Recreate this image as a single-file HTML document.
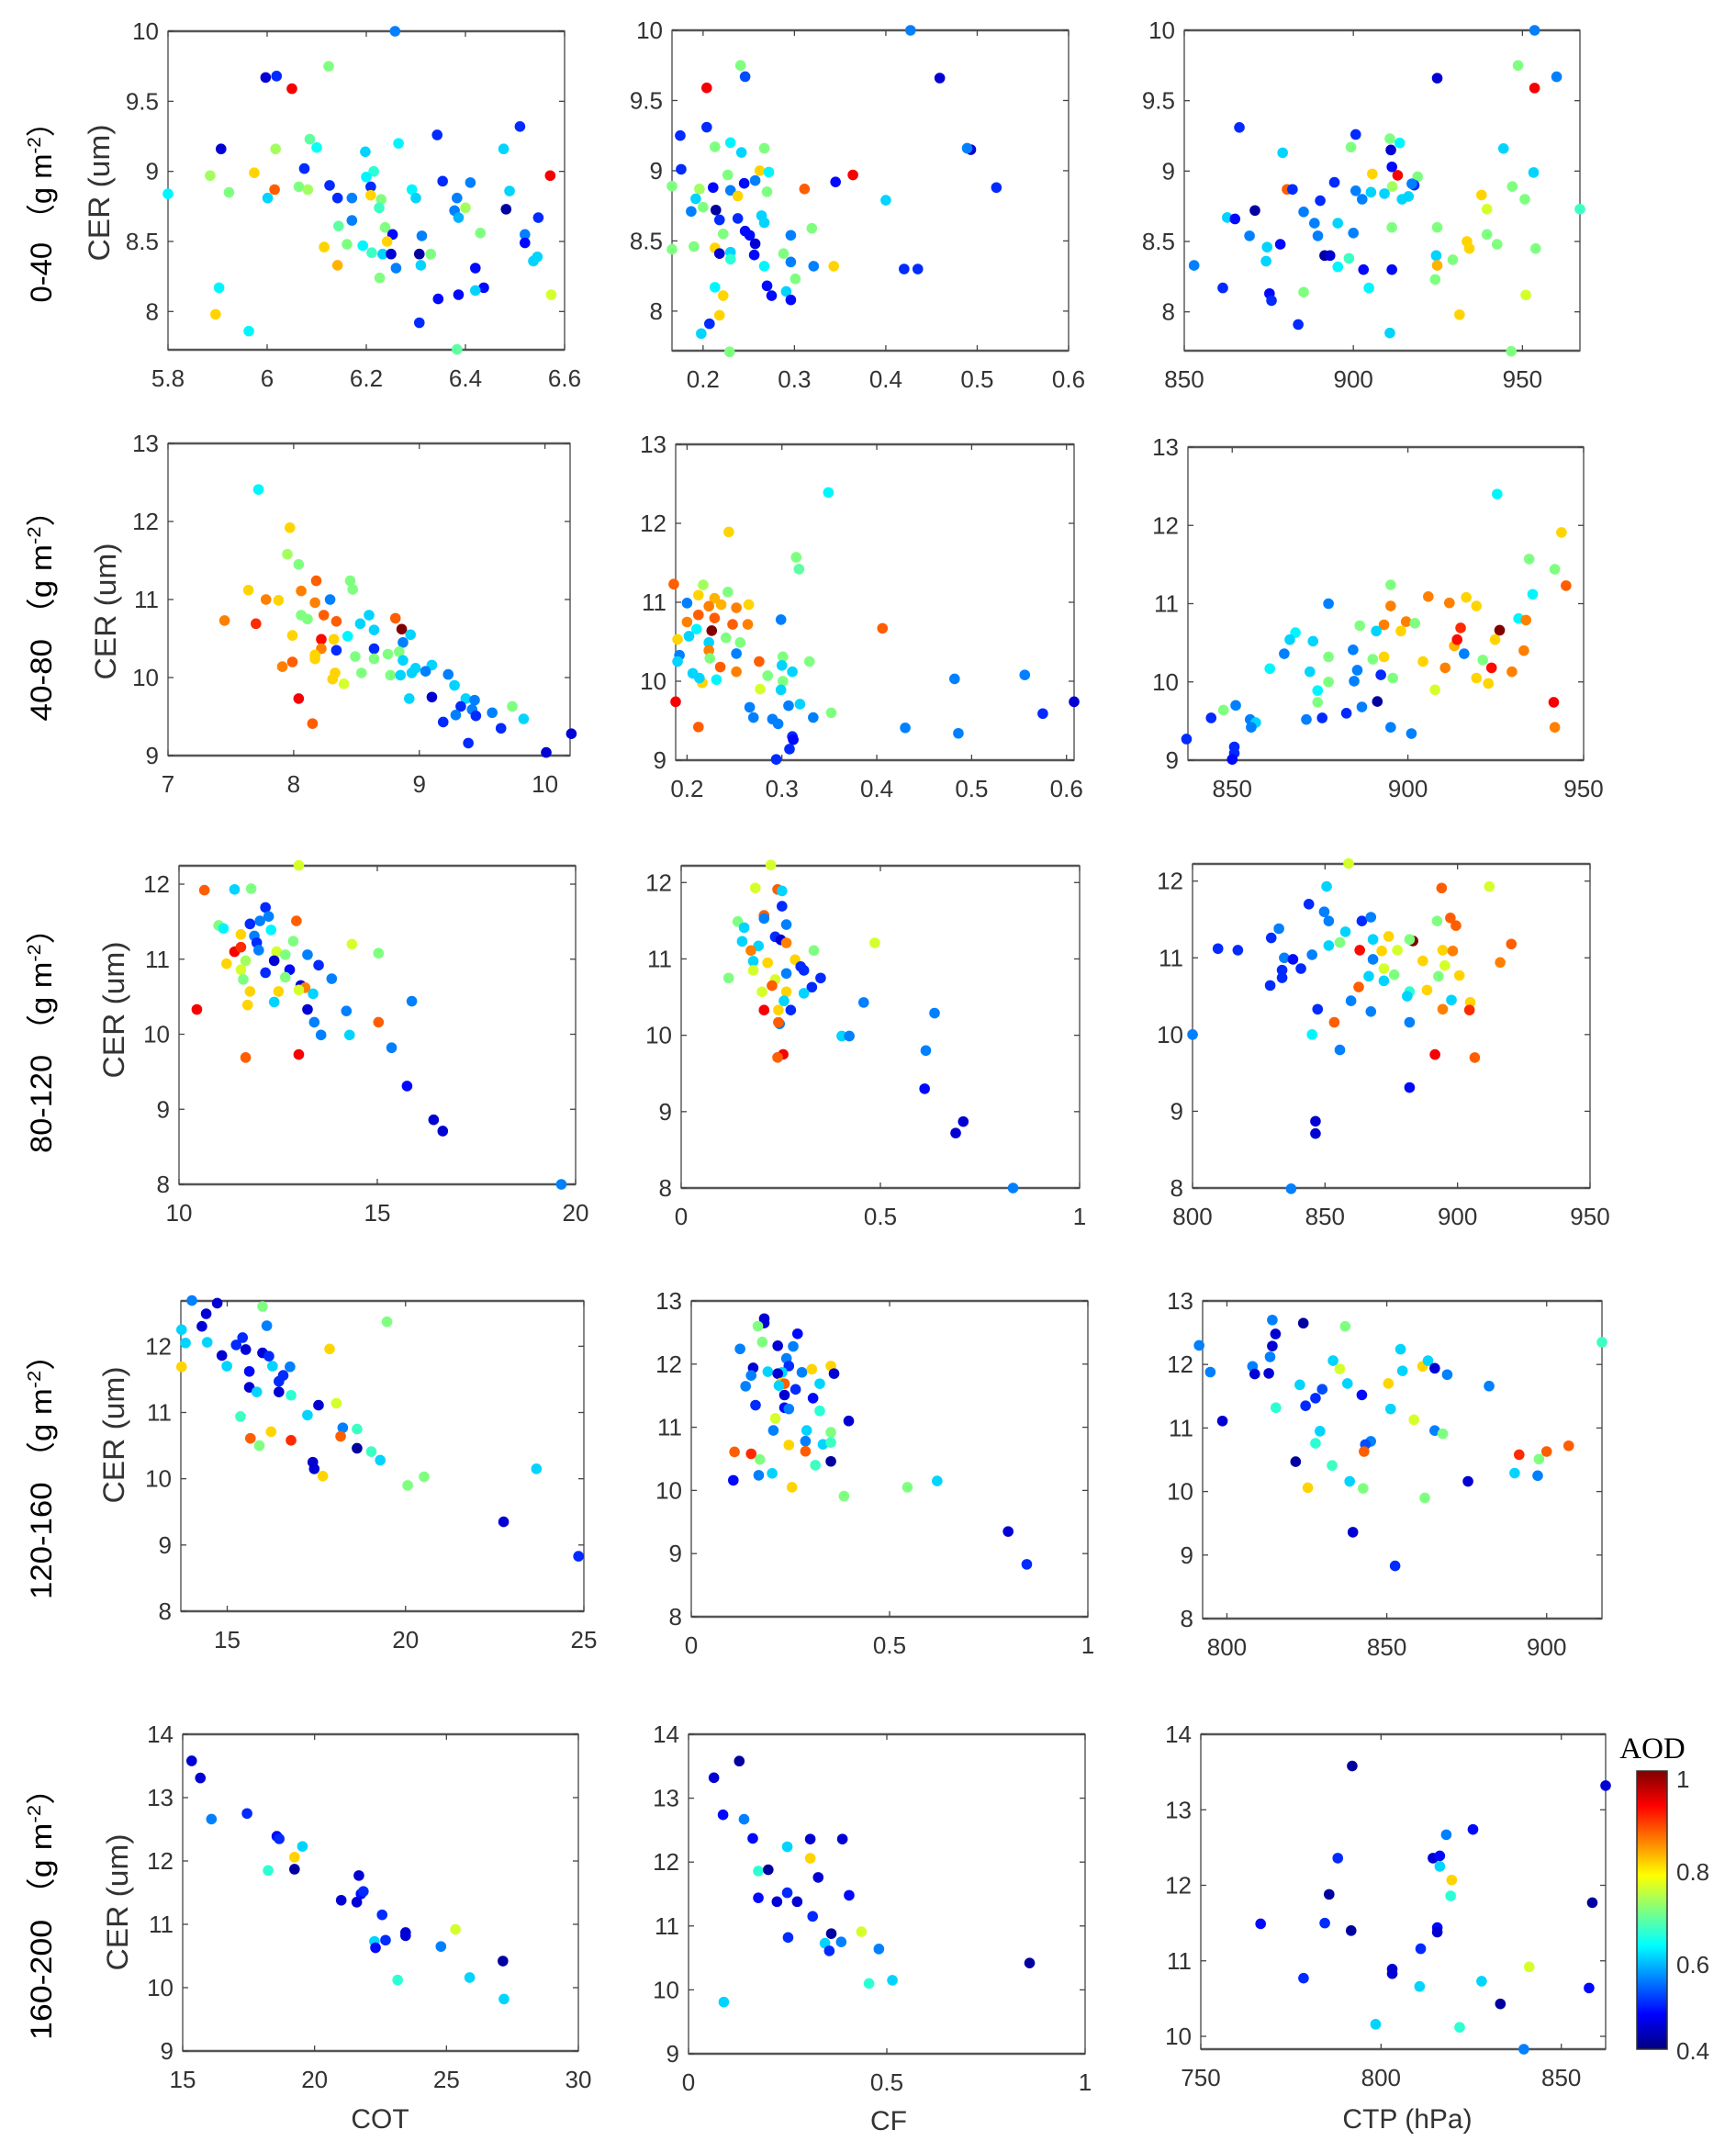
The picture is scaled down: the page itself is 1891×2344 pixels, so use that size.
<!DOCTYPE html>
<html><head><meta charset="utf-8"><style>
html,body{margin:0;padding:0;background:#fff}
svg{display:block}
text{font-family:"Liberation Sans",Arial,sans-serif;fill:#333}
</style></head><body>
<svg id="fig" xmlns="http://www.w3.org/2000/svg" width="1891" height="2344" viewBox="0 0 1891 2344">
<defs><linearGradient id="jetgrad" x1="0" y1="1" x2="0" y2="0">
<stop offset="0" stop-color="#00007f"/><stop offset="0.125" stop-color="#0000ff"/><stop offset="0.375" stop-color="#00ffff"/><stop offset="0.625" stop-color="#ffff00"/><stop offset="0.875" stop-color="#ff0000"/><stop offset="1" stop-color="#7f0000"/></linearGradient></defs>
<g id="panels"></g>
<g>
<rect x="1783" y="1929" width="33" height="303" fill="url(#jetgrad)" stroke="#333" stroke-width="1.5"/>
<text x="1800" y="1915" text-anchor="middle" style="font-family:'Liberation Serif',serif;font-size:33px;fill:#000">AOD</text>
<text x="1826" y="1947" style="font-size:26px">1</text>
<text x="1826" y="2048" style="font-size:26px">0.8</text>
<text x="1826" y="2149" style="font-size:26px">0.6</text>
<text x="1826" y="2243" style="font-size:26px">0.4</text>
</g>
<text x="414" y="2318" text-anchor="middle" style="font-size:30px">COT</text>
<text x="968" y="2320" text-anchor="middle" style="font-size:30px">CF</text>
<text x="1533" y="2318" text-anchor="middle" style="font-size:30px">CTP (hPa)</text>
</svg>
<script>
// ---- data: [x, CER, AOD] ----
const r1cot=[[6.258,10,.55],[6.124,9.75,.7],[5.997,9.67,.45],[6.019,9.68,.5],[6.05,9.59,.93],[5.907,9.16,.45],[6.017,9.16,.72],[6.086,9.23,.68],[6.1,9.17,.63],[5.885,8.97,.72],[5.974,8.99,.8],[6.075,9.02,.5],[6.198,9.14,.6],[6.265,9.2,.62],[6.343,9.26,.5],[6.51,9.32,.5],[6.477,9.16,.6],[6.571,8.97,.93],[5.8,8.84,.62],[5.923,8.85,.7],[6.015,8.87,.87],[6.001,8.81,.6],[6.064,8.89,.7],[6.082,8.87,.72],[6.126,8.9,.5],[6.142,8.81,.5],[6.171,8.81,.55],[6.209,8.89,.5],[6.215,9,.65],[6.2,8.96,.62],[6.209,8.83,.8],[6.23,8.8,.7],[6.226,8.74,.66],[6.292,8.87,.62],[6.3,8.81,.6],[6.354,8.93,.5],[6.41,8.92,.55],[6.383,8.81,.55],[6.378,8.72,.55],[6.386,8.67,.58],[6.4,8.74,.72],[6.489,8.86,.6],[6.482,8.73,.42],[6.547,8.67,.5],[6.144,8.61,.68],[6.171,8.65,.55],[6.238,8.6,.7],[6.253,8.55,.48],[6.242,8.5,.8],[6.161,8.48,.7],[6.115,8.46,.8],[6.193,8.47,.62],[6.211,8.42,.66],[6.233,8.41,.6],[6.25,8.41,.45],[6.307,8.41,.42],[6.33,8.41,.7],[6.312,8.54,.55],[6.43,8.56,.7],[6.52,8.55,.55],[6.52,8.49,.48],[6.545,8.39,.6],[6.537,8.36,.6],[6.142,8.33,.82],[6.26,8.31,.55],[6.31,8.33,.6],[6.42,8.31,.48],[6.227,8.24,.7],[6.437,8.17,.48],[6.42,8.15,.6],[6.386,8.12,.48],[6.345,8.09,.48],[5.903,8.17,.62],[6.573,8.12,.75],[5.896,7.98,.8],[6.307,7.92,.5],[5.963,7.86,.62],[6.383,7.73,.68]];
const r1cf=[[.427,10,.55],[.241,9.75,.7],[.246,9.67,.52],[.459,9.66,.45],[.204,9.59,.93],[.175,9.25,.5],[.204,9.31,.5],[.213,9.17,.7],[.23,9.2,.62],[.242,9.13,.6],[.267,9.16,.7],[.493,9.15,.45],[.489,9.16,.55],[.176,9.01,.5],[.262,9,.8],[.272,8.99,.62],[.227,8.97,.7],[.364,8.97,.93],[.345,8.92,.48],[.311,8.87,.87],[.166,8.89,.7],[.196,8.87,.72],[.211,8.88,.48],[.245,8.91,.48],[.257,8.93,.55],[.23,8.86,.55],[.238,8.82,.8],[.192,8.8,.6],[.27,8.85,.7],[.4,8.79,.6],[.521,8.88,.5],[.187,8.71,.55],[.2,8.74,.7],[.214,8.72,.42],[.238,8.66,.5],[.264,8.68,.6],[.267,8.63,.6],[.218,8.65,.5],[.319,8.59,.7],[.246,8.57,.48],[.251,8.54,.48],[.222,8.55,.7],[.296,8.54,.55],[.166,8.44,.7],[.19,8.46,.7],[.213,8.45,.8],[.218,8.41,.45],[.23,8.42,.6],[.257,8.48,.45],[.256,8.4,.48],[.288,8.41,.7],[.23,8.37,.65],[.267,8.32,.62],[.296,8.35,.55],[.321,8.32,.55],[.343,8.32,.8],[.42,8.3,.5],[.435,8.3,.5],[.301,8.23,.7],[.213,8.17,.62],[.27,8.18,.48],[.275,8.11,.48],[.291,8.14,.6],[.296,8.08,.48],[.222,8.11,.8],[.218,7.97,.8],[.207,7.91,.5],[.198,7.84,.6],[.229,7.71,.7]];
const r1ctp=[[953.6,10,.55],[948.7,9.75,.7],[960.1,9.67,.55],[924.8,9.66,.45],[953.6,9.59,.93],[866.3,9.31,.5],[900.7,9.26,.5],[899.3,9.17,.7],[879.1,9.13,.6],[910.8,9.23,.7],[913.7,9.2,.62],[911.1,9.15,.45],[944.4,9.16,.6],[953.3,8.99,.6],[905.6,8.98,.8],[911.4,9.03,.48],[913.1,8.97,.93],[919,8.96,.7],[918,8.9,.5],[917.3,8.91,.55],[894.4,8.92,.5],[880.4,8.87,.87],[882,8.87,.5],[890.2,8.79,.5],[900.7,8.86,.55],[902.6,8.8,.55],[905.2,8.85,.6],[909.2,8.84,.6],[911.5,8.89,.72],[914.4,8.8,.6],[916.3,8.82,.6],[937.9,8.83,.8],[939.5,8.73,.75],[947,8.89,.7],[950.7,8.8,.7],[967,8.73,.66],[862.7,8.67,.6],[865,8.66,.48],[870.9,8.72,.42],[885.3,8.71,.55],[869.3,8.54,.55],[878.4,8.48,.48],[888.5,8.63,.55],[889.5,8.54,.55],[895.4,8.63,.6],[900,8.56,.55],[874.5,8.46,.6],[874.2,8.36,.6],[891.5,8.4,.42],[893.1,8.4,.45],[895.4,8.32,.62],[898.7,8.38,.66],[903,8.3,.48],[911.4,8.6,.7],[911.4,8.3,.48],[924.8,8.6,.7],[924.5,8.4,.6],[924.8,8.33,.82],[929.4,8.37,.7],[933.6,8.5,.8],[934.3,8.45,.8],[939.5,8.55,.7],[942.5,8.48,.7],[953.9,8.45,.7],[852.9,8.33,.55],[861.4,8.17,.5],[875.2,8.13,.48],[875.8,8.08,.5],[885.3,8.14,.7],[904.6,8.17,.62],[924.2,8.23,.7],[951,8.12,.75],[931.4,7.98,.8],[883.7,7.91,.5],[910.8,7.85,.6],[946.7,7.72,.7]];
const r2cot=[[7.72,12.41,.62],[7.97,11.92,.8],[7.95,11.58,.72],[8.04,11.45,.7],[8.18,11.24,.87],[8.45,11.24,.7],[8.47,11.13,.7],[7.64,11.12,.8],[7.78,11,.85],[7.88,10.99,.8],[8.06,11.11,.85],[8.17,10.96,.85],[8.29,11,.55],[7.45,10.73,.85],[7.7,10.69,.9],[8.06,10.8,.7],[8.11,10.75,.7],[8.24,10.8,.87],[8.34,10.72,.87],[8.6,10.8,.6],[8.53,10.69,.6],[8.64,10.61,.6],[8.81,10.76,.87],[8.86,10.62,1],[8.93,10.55,.6],[8.87,10.45,.55],[8.43,10.53,.62],[7.99,10.54,.8],[8.32,10.49,.8],[8.22,10.49,.92],[8.22,10.37,.85],[8.34,10.35,.5],[8.17,10.29,.8],[8.64,10.37,.5],[8.17,10.24,.8],[8.49,10.27,.7],[8.75,10.3,.7],[8.84,10.33,.7],[8.87,10.22,.6],[8.64,10.24,.7],[7.99,10.2,.87],[7.91,10.14,.85],[8.97,10.12,.6],[9.1,10.16,.6],[8.94,10.06,.6],[9.05,10.08,.55],[9.23,10.04,.55],[8.54,10.06,.7],[8.77,10.03,.7],[8.85,10.03,.6],[8.33,10.06,.8],[8.31,9.98,.8],[8.4,9.92,.75],[9.28,9.9,.6],[8.04,9.73,.93],[8.92,9.73,.6],[9.1,9.75,.45],[9.37,9.73,.6],[9.44,9.71,.55],[9.33,9.63,.5],[9.42,9.59,.55],[9.29,9.52,.55],[9.58,9.55,.55],[9.74,9.63,.7],[9.83,9.47,.6],[9.45,9.51,.5],[9.19,9.43,.5],[9.65,9.35,.5],[8.15,9.41,.87],[9.39,9.16,.5],[10.01,9.04,.45],[10.21,9.28,.45]];
const r2cf=[[.349,12.39,.62],[.244,11.89,.8],[.315,11.57,.7],[.318,11.42,.68],[.186,11.23,.87],[.217,11.22,.72],[.243,11.13,.7],[.2,10.99,.55],[.212,11.09,.8],[.229,11.05,.82],[.223,10.95,.85],[.236,10.97,.82],[.252,10.93,.85],[.265,10.97,.8],[.212,10.84,.87],[.229,10.8,.87],[.2,10.75,.85],[.21,10.66,.62],[.226,10.64,1],[.248,10.72,.87],[.264,10.72,.85],[.299,10.78,.55],[.19,10.53,.8],[.202,10.57,.6],[.223,10.49,.6],[.241,10.55,.7],[.256,10.49,.7],[.192,10.33,.55],[.252,10.35,.55],[.223,10.39,.85],[.19,10.25,.6],[.224,10.29,.7],[.276,10.25,.87],[.301,10.31,.7],[.329,10.25,.7],[.3,10.2,.6],[.235,10.18,.87],[.206,10.1,.6],[.252,10.12,.85],[.311,10.12,.6],[.216,9.98,.8],[.213,10.04,.6],[.231,10.02,.62],[.285,10.07,.7],[.301,10,.7],[.277,9.9,.75],[.299,9.89,.6],[.482,10.03,.55],[.556,10.08,.55],[.406,10.67,.87],[.188,9.74,.93],[.266,9.67,.55],[.307,9.69,.55],[.319,9.71,.6],[.352,9.6,.7],[.27,9.54,.55],[.29,9.52,.55],[.333,9.54,.55],[.212,9.42,.87],[.296,9.46,.55],[.43,9.41,.55],[.486,9.34,.55],[.311,9.3,.5],[.312,9.26,.48],[.308,9.14,.5],[.294,9.01,.5],[.575,9.59,.5],[.608,9.74,.45]];
const r2ctp=[[925.4,12.4,.62],[943.7,11.91,.8],[934.5,11.57,.7],[941.8,11.44,.7],[945,11.23,.87],[895.1,11.24,.7],[935.5,11.12,.62],[877.4,11,.55],[905.8,11.09,.85],[911.8,11.01,.85],[916.6,11.08,.8],[919.5,10.97,.8],[895.1,10.97,.85],[893.2,10.73,.85],[899.5,10.77,.85],[902,10.75,.7],[886.3,10.72,.7],[891,10.65,.6],[898,10.65,.8],[915,10.69,.9],[926.1,10.66,1],[931.5,10.81,.62],[933.6,10.79,.85],[868,10.63,.62],[866.4,10.54,.6],[873,10.52,.6],[864.8,10.36,.55],[884.4,10.41,.55],[877.4,10.32,.7],[890,10.29,.7],[893.2,10.32,.8],[913.2,10.46,.82],[914,10.54,.92],[916,10.36,.55],[924.8,10.54,.8],[933,10.4,.85],[904.3,10.26,.8],[921.3,10.28,.7],[923.8,10.18,.92],[910.6,10.18,.85],[929.6,10.13,.85],[860.7,10.17,.62],[872.1,10.13,.6],[885.6,10.15,.55],[892.3,10.09,.5],[895.7,10.05,.7],[884.7,10.01,.55],[877.4,10,.7],[919.5,10.05,.8],[922.9,9.98,.8],[907.7,9.9,.75],[874.3,9.89,.62],[874.3,9.74,.7],[891.3,9.75,.42],[886.9,9.68,.55],[882.5,9.6,.5],[875.6,9.54,.5],[871.1,9.52,.55],[941.5,9.74,.93],[851,9.7,.55],[847.5,9.64,.7],[844,9.54,.5],[855.1,9.52,.55],[856.7,9.48,.6],[855.4,9.42,.55],[895.1,9.42,.55],[901,9.34,.55],[941.8,9.42,.85],[837,9.27,.5],[850.6,9.17,.5],[850.6,9.09,.5],[850,9.01,.48]];
const r3cot=[[13.02,12.25,.75],[10.64,11.92,.87],[11.4,11.93,.6],[11.82,11.94,.7],[12.18,11.69,.5],[12.26,11.57,.55],[12.96,11.51,.87],[11,11.45,.7],[11.12,11.41,.62],[11.79,11.47,.5],[12.04,11.51,.55],[11.56,11.33,.8],[11.9,11.31,.55],[11.96,11.22,.5],[12.32,11.39,.62],[12.88,11.24,.7],[14.36,11.2,.75],[15.03,11.08,.7],[11.4,11.1,.93],[11.56,11.16,.9],[12.01,11.12,.55],[12.46,11.1,.75],[12.68,11.06,.7],[12.4,10.98,.45],[13.24,11.06,.55],[11.2,10.94,.8],[11.68,10.98,.72],[11.56,10.86,.75],[12.18,10.82,.5],[12.79,10.86,.48],[13.52,10.92,.5],[13.85,10.74,.55],[11.62,10.73,.7],[12.68,10.76,.7],[13.07,10.65,.45],[13.18,10.62,.85],[13.02,10.59,.75],[13.38,10.54,.6],[11.79,10.57,.8],[12.51,10.57,.8],[12.4,10.43,.6],[15.87,10.44,.55],[11.73,10.39,.8],[10.45,10.33,.93],[13.24,10.33,.45],[14.22,10.31,.55],[13.41,10.16,.55],[15.03,10.16,.87],[13.58,9.99,.55],[14.3,9.99,.6],[15.36,9.82,.55],[11.68,9.69,.87],[13.02,9.73,.93],[15.75,9.31,.48],[16.42,8.86,.45],[16.65,8.71,.45],[19.64,8,.55]];
const r3cf=[[.225,12.23,.75],[.186,11.93,.75],[.242,11.91,.87],[.253,11.89,.6],[.253,11.69,.5],[.208,11.57,.87],[.142,11.49,.7],[.158,11.41,.6],[.208,11.53,.55],[.264,11.45,.55],[.153,11.23,.6],[.194,11.17,.6],[.236,11.29,.5],[.25,11.25,.45],[.264,11.21,.85],[.175,11.11,.85],[.333,11.11,.7],[.486,11.21,.75],[.181,10.97,.6],[.217,10.95,.8],[.286,10.99,.8],[.3,10.9,.5],[.308,10.85,.5],[.264,10.81,.55],[.181,10.85,.75],[.119,10.75,.7],[.35,10.75,.5],[.236,10.73,.75],[.228,10.65,.87],[.203,10.57,.75],[.264,10.57,.8],[.328,10.63,.5],[.308,10.55,.6],[.258,10.45,.6],[.458,10.43,.55],[.208,10.33,.93],[.244,10.33,.8],[.275,10.33,.5],[.636,10.29,.55],[.247,10.15,.55],[.244,10.17,.87],[.403,9.99,.6],[.422,9.99,.55],[.614,9.8,.55],[.256,9.75,.93],[.242,9.71,.87],[.611,9.3,.48],[.708,8.87,.45],[.689,8.72,.45],[.833,8,.55]];
const r3ctp=[[858.9,12.23,.75],[850.6,11.93,.6],[894,11.91,.87],[912,11.93,.75],[843.9,11.7,.5],[849.7,11.6,.55],[851.4,11.48,.55],[863.9,11.48,.5],[867.3,11.53,.55],[892.3,11.48,.7],[897.3,11.52,.87],[899.4,11.42,.87],[832.6,11.38,.55],[829.7,11.26,.5],[857.7,11.34,.6],[868.1,11.24,.6],[851.4,11.16,.6],[855.6,11.2,.7],[874,11.28,.8],[883.2,11.22,1],[881.9,11.24,.7],[920.3,11.18,.87],[809.6,11.12,.5],[817.1,11.1,.5],[863.1,11.1,.92],[871.4,11.09,.8],[877.3,11.1,.75],[894.4,11.1,.8],[898.2,11.09,.85],[845.1,11.04,.55],[834.6,11,.55],[837.9,10.98,.48],[868.1,10.98,.55],[886.9,10.96,.8],[916.1,10.94,.85],[840.9,10.86,.5],[833.8,10.84,.5],[872.2,10.86,.75],[895.2,10.9,.75],[866.5,10.76,.6],[876.1,10.78,.7],[892.8,10.76,.7],[900.7,10.77,.8],[833.8,10.74,.5],[872.2,10.7,.6],[829.3,10.64,.5],[862.7,10.62,.87],[881.9,10.56,.65],[888.5,10.58,.8],[881,10.5,.6],[897.7,10.45,.6],[904.8,10.42,.8],[859.8,10.44,.55],[847.2,10.33,.5],[867.3,10.3,.55],[894.4,10.33,.85],[904.5,10.32,.9],[853.5,10.16,.87],[881.9,10.16,.55],[845.1,10,.62],[800,10,.55],[855.6,9.8,.55],[891.5,9.74,.93],[906.5,9.7,.87],[881.9,9.31,.48],[846.4,8.87,.45],[846.4,8.71,.45],[837.2,7.99,.55]];
const r4cot=[[14.01,12.69,.55],[14.72,12.65,.45],[14.41,12.49,.45],[14.29,12.3,.45],[13.72,12.25,.6],[15.99,12.6,.7],[16.11,12.31,.55],[19.48,12.37,.7],[13.83,12.05,.6],[14.44,12.06,.6],[15.43,12.13,.5],[15.25,12.02,.5],[15.52,11.95,.45],[15.99,11.9,.45],[16.17,11.85,.5],[14.85,11.86,.45],[17.87,11.96,.8],[13.72,11.69,.8],[14.99,11.7,.6],[16.27,11.7,.6],[16.76,11.69,.55],[15.62,11.62,.48],[16.57,11.56,.5],[16.45,11.47,.5],[15.62,11.38,.45],[15.83,11.31,.6],[16.45,11.31,.45],[16.79,11.26,.65],[17.56,11.11,.45],[18.06,11.14,.75],[15.37,10.94,.66],[17.25,10.96,.6],[18.24,10.77,.55],[18.64,10.75,.66],[16.23,10.71,.8],[15.65,10.61,.87],[16.79,10.58,.9],[18.18,10.64,.87],[15.9,10.5,.7],[18.64,10.46,.42],[19.04,10.41,.66],[19.29,10.28,.6],[17.4,10.25,.45],[17.44,10.15,.45],[17.68,10.04,.8],[20.52,10.03,.7],[20.06,9.9,.7],[23.67,10.15,.6],[22.75,9.35,.45],[24.85,8.83,.5]];
const r4cf=[[.184,12.72,.45],[.184,12.65,.45],[.168,12.6,.7],[.123,12.24,.55],[.179,12.35,.7],[.218,12.29,.45],[.257,12.28,.55],[.268,12.48,.48],[.24,12.09,.55],[.246,11.97,.5],[.156,11.94,.45],[.193,11.88,.6],[.229,11.87,.6],[.218,11.85,.45],[.279,11.87,.55],[.304,11.92,.8],[.352,11.97,.8],[.36,11.85,.45],[.151,11.82,.55],[.137,11.65,.55],[.226,11.7,.8],[.235,11.69,.87],[.263,11.6,.5],[.324,11.69,.6],[.221,11.66,.6],[.235,11.51,.45],[.307,11.46,.48],[.162,11.35,.5],[.235,11.31,.48],[.246,11.29,.55],[.324,11.26,.65],[.212,11.14,.75],[.397,11.1,.45],[.207,10.95,.55],[.291,10.95,.6],[.352,10.92,.7],[.246,10.72,.8],[.288,10.78,.55],[.332,10.73,.6],[.352,10.76,.66],[.288,10.62,.87],[.109,10.61,.87],[.151,10.58,.9],[.173,10.49,.7],[.352,10.46,.42],[.313,10.4,.66],[.204,10.27,.6],[.17,10.24,.55],[.106,10.16,.48],[.254,10.05,.8],[.62,10.15,.6],[.545,10.05,.7],[.385,9.91,.7],[.799,9.35,.45],[.846,8.83,.5]];
const r4ctp=[[814.2,12.7,.55],[823.9,12.65,.42],[837,12.6,.7],[815.2,12.48,.45],[814.2,12.29,.45],[791.3,12.3,.55],[917.3,12.35,.66],[813.5,12.12,.55],[854.3,12.24,.6],[794.8,11.88,.55],[808,11.97,.55],[808.7,11.85,.45],[813.1,11.86,.45],[833.2,12.06,.6],[835.3,11.93,.75],[854.9,11.9,.6],[861.2,11.97,.8],[862.9,12.06,.6],[865,11.94,.45],[868.9,11.84,.55],[822.8,11.68,.6],[837.7,11.7,.6],[850.5,11.7,.8],[882,11.66,.55],[829.8,11.61,.52],[827.7,11.47,.5],[842.2,11.52,.48],[824.6,11.35,.5],[815.3,11.32,.65],[851.2,11.3,.6],[798.6,11.11,.45],[858.5,11.13,.75],[829.1,10.95,.6],[865,10.96,.55],[867.5,10.91,.7],[827.7,10.76,.65],[845,10.79,.55],[843.3,10.74,.52],[842.9,10.63,.87],[906.9,10.72,.87],[891.4,10.58,.9],[900,10.63,.87],[897.6,10.51,.7],[821.5,10.47,.42],[832.9,10.41,.66],[890,10.29,.6],[897.2,10.25,.55],[838.4,10.16,.6],[875.4,10.16,.45],[825.3,10.06,.8],[842.6,10.05,.7],[861.9,9.9,.7],[839.4,9.36,.45],[852.6,8.83,.5]];
const r5cot=[[15.34,13.58,.45],[15.67,13.31,.45],[16.09,12.66,.55],[17.44,12.75,.5],[18.57,12.39,.48],[18.66,12.35,.5],[19.54,12.23,.6],[19.24,12.06,.8],[18.24,11.85,.65],[19.24,11.87,.42],[21.68,11.77,.45],[21.01,11.38,.45],[21.6,11.35,.45],[21.76,11.48,.48],[21.85,11.52,.5],[22.56,11.15,.5],[23.45,10.87,.45],[23.45,10.82,.45],[22.27,10.73,.6],[22.69,10.75,.5],[22.31,10.63,.48],[25.34,10.92,.75],[24.79,10.65,.55],[23.15,10.12,.65],[25.88,10.16,.6],[27.14,10.42,.42],[27.18,9.82,.6]];
const r5cf=[[.128,13.58,.42],[.064,13.32,.45],[.087,12.74,.48],[.14,12.67,.55],[.162,12.37,.48],[.307,12.36,.45],[.388,12.36,.45],[.249,12.24,.6],[.307,12.06,.8],[.176,11.86,.65],[.201,11.88,.42],[.327,11.76,.45],[.176,11.44,.48],[.223,11.38,.45],[.249,11.52,.5],[.274,11.38,.45],[.405,11.48,.48],[.313,11.15,.5],[.251,10.82,.5],[.36,10.88,.42],[.344,10.73,.6],[.385,10.75,.55],[.355,10.61,.5],[.436,10.91,.75],[.48,10.64,.55],[.455,10.1,.65],[.514,10.15,.6],[.86,10.42,.42],[.089,9.81,.6]];
const r5ctp=[[792,13.58,.42],[862.3,13.32,.45],[825.5,12.74,.48],[818.1,12.67,.55],[788,12.36,.5],[814.4,12.36,.45],[816.3,12.39,.48],[816.3,12.25,.6],[819.6,12.07,.8],[819.3,11.86,.65],[785.6,11.88,.42],[858.6,11.77,.42],[766.6,11.49,.48],[784.4,11.5,.5],[791.7,11.4,.42],[815.6,11.44,.48],[815.6,11.38,.45],[811,11.16,.5],[803.1,10.89,.45],[803.1,10.83,.45],[778.5,10.77,.5],[841.1,10.92,.75],[810.7,10.66,.6],[827.9,10.73,.6],[857.7,10.64,.48],[833.1,10.43,.42],[798.5,10.16,.6],[821.8,10.12,.65],[839.6,9.83,.55]];
// ---- tick values ----
const xt_r1c1=[5.8,6,6.2,6.4,6.6], xt_r1c2=[0.2,0.3,0.4,0.5,0.6], xt_ctp1=[850,900,950];
const yt_r1=[8,8.5,9,9.5,10];
const xt_r2c1=[7,8,9,10], xt_r2c2=[0.2,0.3,0.4,0.5,0.6], xt_r2c3=[850,900,950];
const yt_r2=[9,10,11,12,13];
const xt_r3c1=[10,15,20], xt_cf=[0,0.5,1], xt_r3c3=[800,850,900,950];
const yt_r3=[8,9,10,11,12];
const xt_r4c1=[15,20,25], xt_r4c3=[800,850,900];
const yt_r4c1=[8,9,10,11,12], yt_r4=[8,9,10,11,12,13];
const xt_r5c1=[15,20,25,30], xt_r5c3=[750,800,850];
const yt_r5=[9,10,11,12,13,14], yt_r5c3=[10,11,12,13,14];
const rowNames=["0-40","40-80","80-120","120-160","160-200"];

const panels=[
 {id:"r1-cot",d:r1cot,f:[183,615,34,381],xd:[5.8,6.6],yd:[7.727,10],xt:xt_r1c1,yt:yt_r1},
 {id:"r1-cf",d:r1cf,f:[732,1164,33,382],xd:[0.166,0.6],yd:[7.718,10],xt:xt_r1c2,yt:yt_r1},
 {id:"r1-ctp",d:r1ctp,f:[1290,1721,33,382],xd:[850,967],yd:[7.724,10],xt:xt_ctp1,yt:yt_r1},
 {id:"r2-cot",d:r2cot,f:[183,621,483,823],xd:[7,10.2],yd:[9,13],xt:xt_r2c1,yt:yt_r2},
 {id:"r2-cf",d:r2cf,f:[736,1170,484,828],xd:[0.188,0.608],yd:[9,13],xt:xt_r2c2,yt:yt_r2},
 {id:"r2-ctp",d:r2ctp,f:[1294,1725,487,828],xd:[837.4,950],yd:[9,13],xt:xt_r2c3,yt:yt_r2},
 {id:"r3-cot",d:r3cot,f:[195,627,943,1290],xd:[10,20],yd:[8,12.245],xt:xt_r3c1,yt:yt_r3},
 {id:"r3-cf",d:r3cf,f:[742,1176,943,1294],xd:[0,1],yd:[8,12.22],xt:xt_cf,yt:yt_r3},
 {id:"r3-ctp",d:r3ctp,f:[1299,1732,941,1294],xd:[800,950],yd:[8,12.224],xt:xt_r3c3,yt:yt_r3},
 {id:"r4-cot",d:r4cot,f:[197,636,1417,1755],xd:[13.7,25],yd:[8,12.684],xt:xt_r4c1,yt:yt_r4c1},
 {id:"r4-cf",d:r4cf,f:[753,1185,1417,1761],xd:[0,1],yd:[8,13],xt:xt_cf,yt:yt_r4},
 {id:"r4-ctp",d:r4ctp,f:[1310,1745,1417,1763],xd:[792.4,917.3],yd:[8,13],xt:xt_r4c3,yt:yt_r4},
 {id:"r5-cot",d:r5cot,f:[199,630,1889,2234],xd:[15,30],yd:[9,14],xt:xt_r5c1,yt:yt_r5},
 {id:"r5-cf",d:r5cf,f:[750,1182,1889,2237],xd:[0,1],yd:[9,14],xt:xt_cf,yt:yt_r5},
 {id:"r5-ctp",d:r5ctp,f:[1308,1749,1889,2232],xd:[750,862.3],yd:[9.83,14],xt:xt_r5c3,yt:yt_r5c3}
];
// [rowLabelX, rowLabelCenterY, rowLabelLength, cerX, cerCenterY]
const rowLabelPos=[[45,223,213,108,210],[45,662,247,115,666],[45,1125,262,124,1100],[45,1600,284,124,1563],[45,2076,292,128,2072]];

const NS="http://www.w3.org/2000/svg";
const root=document.getElementById("panels");
function mk(tag,attrs,parent){const e=document.createElementNS(NS,tag);for(const k in attrs)e.setAttribute(k,attrs[k]);parent.appendChild(e);return e;}
function jet(a){const t=Math.max(0,Math.min(1,(a-0.4)/0.6));const c=v=>Math.round(255*Math.max(0,Math.min(1,v)));
 return "rgb("+c(1.5-Math.abs(4*t-3))+","+c(1.5-Math.abs(4*t-2))+","+c(1.5-Math.abs(4*t-1))+")";}
function fmt(v){return String(Math.round(v*1000)/1000);}

panels.forEach(p=>{
 const [x0,x1,y0,y1]=p.f;
 const sx=v=>x0+(v-p.xd[0])/(p.xd[1]-p.xd[0])*(x1-x0);
 const sy=v=>y1-(v-p.yd[0])/(p.yd[1]-p.yd[0])*(y1-y0);
 const g=mk("g",{},root);
 
 
 const bg=mk("rect",{x:x0,y:y0,width:x1-x0,height:y1-y0,fill:"#fff",stroke:"#444","stroke-width":1.3},g);
 
 
 const tb=mk("line",{x1:x0,x2:x1,y1:y0,y2:y0,stroke:"#555","stroke-width":2.5},g);
 
 
 const bb=mk("line",{x1:x0,x2:x1,y1:y1,y2:y1,stroke:"#555","stroke-width":2.5},g);
 
 
 p.xt.forEach(v=>{
  const X=sx(v);
  mk("line",{x1:X,x2:X,y1:y1,y2:y1-6,stroke:"#444","stroke-width":1.3},g);
  mk("line",{x1:X,x2:X,y1:y0,y2:y0+6,stroke:"#444","stroke-width":1.3},g);
  const t=mk("text",{x:X,y:y1+40,"text-anchor":"middle","font-size":26},g);
  t.textContent=fmt(v);
  
  
 });
 p.yt.forEach(v=>{
  const Y=sy(v);
  mk("line",{x1:x0,x2:x0+6,y1:Y,y2:Y,stroke:"#444","stroke-width":1.3},g);
  mk("line",{x1:x1,x2:x1-6,y1:Y,y2:Y,stroke:"#444","stroke-width":1.3},g);
  const t=mk("text",{x:x0-10,y:Y+9,"text-anchor":"end","font-size":26},g);
  t.textContent=fmt(v);
  
  
 });
 p.d.forEach(pt=>{
  const c=mk("circle",{cx:sx(pt[0]),cy:sy(pt[1]),r:5.8,fill:jet(pt[2])},g);
  
  
 });
});

rowNames.forEach((n,i)=>{
 const [rx,ry,rl,cx,cy]=rowLabelPos[i];
 const t=mk("text",{transform:"translate("+(rx+11)+","+ry+") rotate(-90)","text-anchor":"middle","font-size":32,textLength:rl,lengthAdjust:"spacingAndGlyphs",style:"fill:#000"},root);
 
 
 const a=mk("tspan",{},t); a.textContent=n+" （g m";
 const s=mk("tspan",{dy:-12,"font-size":20},t); s.textContent="-2";
 const b=mk("tspan",{dy:12},t); b.textContent="）";
 const c=mk("text",{transform:"translate("+(cx+11)+","+cy+") rotate(-90)","text-anchor":"middle","font-size":32,textLength:149,lengthAdjust:"spacingAndGlyphs"},root);
 c.textContent="CER (um)";
 
 
});
</script>
</body></html>
